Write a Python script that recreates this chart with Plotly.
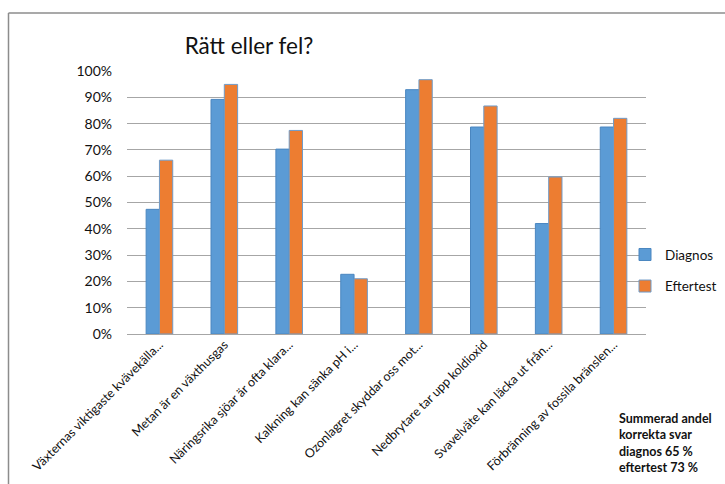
import plotly.graph_objects as go

categories = [
    "Växternas viktigaste kvävekälla...",
    "Metan är en växthusgas",
    "Näringsrika sjöar är ofta klara...",
    "Kalkning kan sänka pH i...",
    "Ozonlagret skyddar oss mot...",
    "Nedbrytare tar upp koldioxid",
    "Svavelväte kan läcka ut från...",
    "Förbränning av fossila bränslen...",
]
diagnos = [0.474, 0.892, 0.703, 0.227, 0.929, 0.787, 0.420, 0.787]
eftertest = [0.661, 0.949, 0.774, 0.210, 0.967, 0.867, 0.597, 0.820]
series_names = ["Diagnos", "Eftertest"]
title_text = "Rätt eller fel?"
note_lines = ["Summerad andel", "korrekta svar", "diagnos 65 %", "eftertest 73 %"]

FONT = "Lato, 'Open Sans', sans-serif"

fig = go.Figure()
fig.add_trace(go.Bar(
    x=categories, y=diagnos, name=series_names[0], legendgroup="a",
    marker=dict(color="#5B9BD5", line=dict(color="#4A86C0", width=1)),
))
fig.add_trace(go.Bar(
    x=categories, y=eftertest, name=series_names[1], legendgroup="b",
    marker=dict(color="#ED7D31", line=dict(color="#6F9BC8", width=1)),
))

L, R, T, B = 127, 79, 71, 150
PW, PH = 725 - L - R, 484 - T - B
fig.update_layout(
    width=725, height=484,
    margin=dict(l=L, r=R, t=T, b=B, pad=0, autoexpand=False),
    paper_bgcolor="white", plot_bgcolor="white",
    bargap=0.59, bargroupgap=0,
    font=dict(family=FONT, color="#222222"),
    title=dict(text=title_text, x=(249 - L) / PW, xref="paper", xanchor="center",
               y=1 - 46 / 484, yanchor="middle", font=dict(size=22.5, family=FONT, color="#111111")),
    legend=dict(x=(625 - L) / PW, xanchor="left", y=0.33 + 8 / PH, yanchor="top",
                traceorder="grouped", tracegroupgap=11,
                font=dict(size=13.5, family=FONT, color="#111111"),
                itemwidth=30, bgcolor="rgba(0,0,0,0)"),
    showlegend=True,
)
fig.update_yaxes(range=[0, 1], dtick=0.1, tickformat=".0%",
                 showgrid=True, gridcolor="#A6A6A6", gridwidth=1,
                 zeroline=True, zerolinecolor="#A6A6A6", zerolinewidth=1,
                 showline=False, ticklabelstandoff=14,
                 tickfont=dict(size=14, family=FONT, color="#111111"))
fig.update_xaxes(tickangle=-45, showline=False, showgrid=False,
                 tickfont=dict(size=12.5, family=FONT, color="#111111"))

# chart border (left and top edges visible)
bx = (8.5 - L) / PW
by = (484 - B - 13) / PH
fig.add_shape(type="line", xref="paper", yref="paper", x0=bx, x1=bx, y0=by, y1=-2,
              line=dict(color="#8C8C8C", width=1.5))
fig.add_shape(type="line", xref="paper", yref="paper", x0=bx, x1=2, y0=by, y1=by,
              line=dict(color="#8C8C8C", width=1.5))

fig.add_annotation(
    text="<br>".join("<b>" + s + "</b>" for s in note_lines),
    xref="paper", yref="paper", x=(617 - L) / PW, y=-(409 - (484 - B)) / PH,
    xanchor="left", yanchor="top", align="left", showarrow=False,
    font=dict(size=12.5, family=FONT, color="#111111"),
)

fig.write_html("out.html")
